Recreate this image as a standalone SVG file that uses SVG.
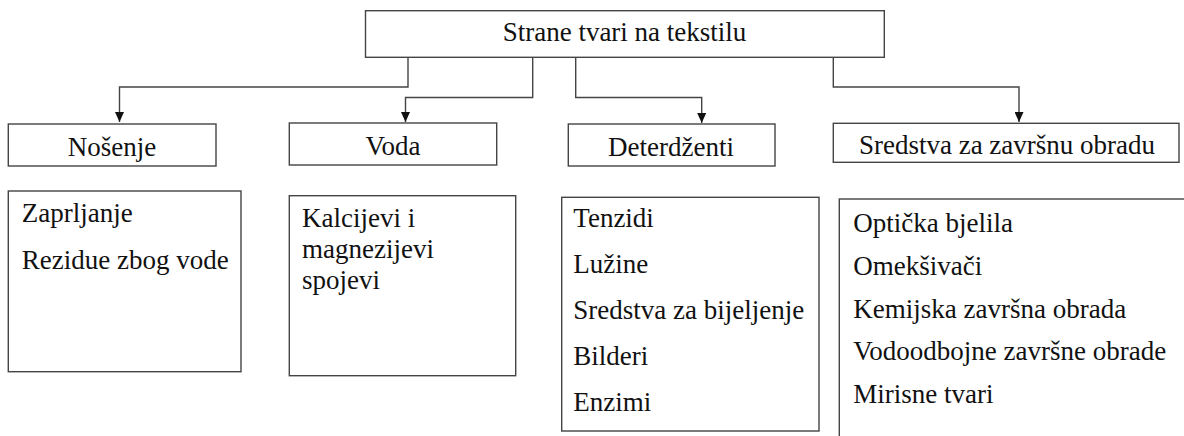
<svg xmlns="http://www.w3.org/2000/svg" width="1184" height="436" viewBox="0 0 1184 436">
<style>
.box{fill:#fff;stroke:#444;stroke-width:1.4}
text{font-family:'Liberation Serif','DejaVu Serif',serif;font-size:27px;fill:#111}
.c{text-anchor:middle}
.conn{fill:none;stroke:#444;stroke-width:1.4}
</style>
<defs>
<marker id="ah" viewBox="0 0 10 10" refX="10" refY="5" markerWidth="10" markerHeight="9" markerUnits="userSpaceOnUse" preserveAspectRatio="none" orient="auto">
<path d="M0,0 L10,5 L0,10 z" fill="#111"/>
</marker>
</defs>
<rect width="1184" height="436" fill="#fff"/>
<g id="connectors">
<path class="conn" d="M408,57 V87 H119.5 V122" marker-end="url(#ah)"/>
<path class="conn" d="M532.7,57 V97.5 H405.5 V122" marker-end="url(#ah)"/>
<path class="conn" d="M575.7,57 V97.5 H701.7 V123" marker-end="url(#ah)"/>
<path class="conn" d="M833.3,57 V87 H1019 V122" marker-end="url(#ah)"/>
</g>
<g id="root">
<rect class="box" x="365.5" y="10.7" width="518.8" height="46.6"/>
<text class="c" x="624.5" y="41">Strane tvari na tekstilu</text>
</g>
<g id="nosenje">
<rect class="box" x="8.3" y="124" width="207.7" height="42"/>
<text class="c" x="112" y="156">Nošenje</text>
</g>
<g id="voda">
<rect class="box" x="289.3" y="123" width="207.4" height="42"/>
<text class="c" x="393" y="155">Voda</text>
</g>
<g id="deterdzenti">
<rect class="box" x="568.3" y="124" width="206.7" height="42"/>
<text class="c" x="671" y="156">Deterdženti</text>
</g>
<g id="sredstva">
<rect class="box" x="833.3" y="123.3" width="345.7" height="39"/>
<text class="c" x="1007" y="154">Sredstva za završnu obradu</text>
</g>
<g id="nosenje-list">
<rect class="box" x="8.3" y="191" width="232.7" height="180.7"/>
<text x="21.7" y="222">Zaprljanje</text>
<text x="21.7" y="269">Rezidue zbog vode</text>
</g>
<g id="voda-list">
<rect class="box" x="289.3" y="195.7" width="226.4" height="180"/>
<text x="302" y="226.5">Kalcijevi i</text>
<text x="302" y="257.5">magnezijevi</text>
<text x="302" y="288.5">spojevi</text>
</g>
<g id="deterdzenti-list">
<rect class="box" x="561.7" y="197.3" width="257.3" height="233.7"/>
<text x="573.3" y="227">Tenzidi</text>
<text x="573.3" y="273">Lužine</text>
<text x="573.3" y="319">Sredstva za bijeljenje</text>
<text x="573.3" y="365">Bilderi</text>
<text x="573.3" y="411">Enzimi</text>
</g>
<g id="sredstva-list">
<rect class="box" x="839.3" y="199" width="360" height="260"/>
<text x="853.3" y="232">Optička bjelila</text>
<text x="853.3" y="275">Omekšivači</text>
<text x="853.3" y="317.5">Kemijska završna obrada</text>
<text x="853.3" y="360">Vodoodbojne završne obrade</text>
<text x="853.3" y="403">Mirisne tvari</text>
</g>
</svg>
